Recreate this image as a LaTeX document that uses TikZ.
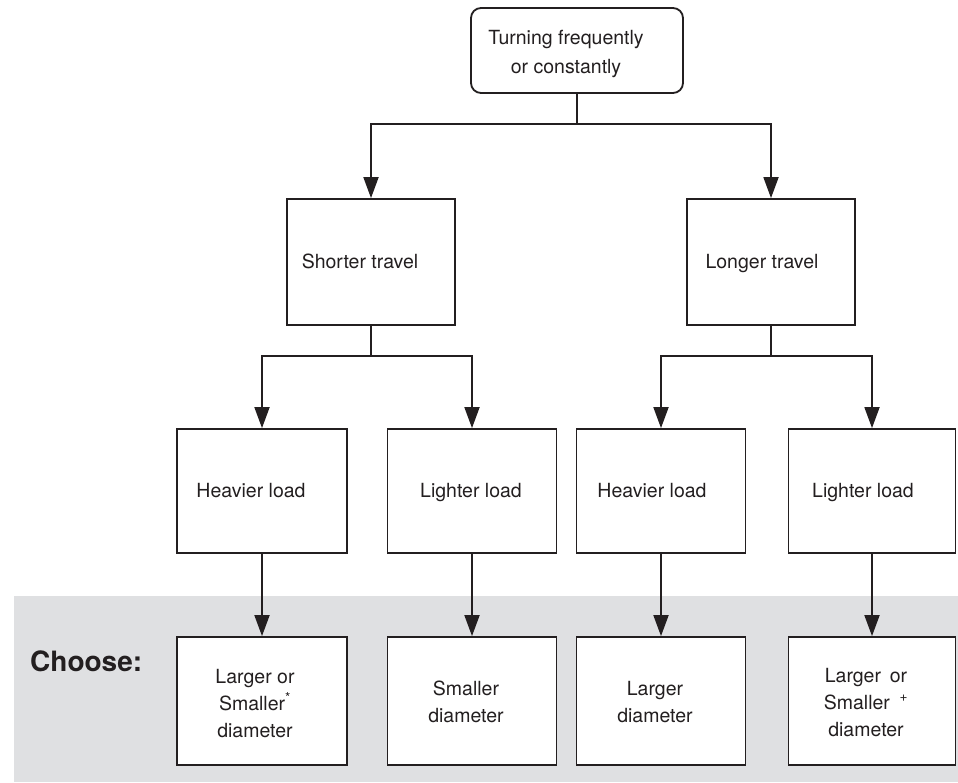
\documentclass[tikz,border=0pt]{standalone}
\usepackage{fontspec}
\setmainfont{TeX Gyre Heros}
\usetikzlibrary{arrows.meta}
\definecolor{ink}{HTML}{231F20}
\definecolor{band}{HTML}{DFE0E2}
\begin{document}
\begin{tikzpicture}[x=1pt,y=-1pt,
  every node/.style={text=ink},
  box/.style={draw=ink,line width=1.8pt,fill=white,inner sep=0pt},
  txt/.style={font=\fontsize{19.5}{27}\selectfont,align=center,inner sep=0pt,text height=14pt,text depth=4pt},
  mtxt/.style={font=\fontsize{19.5}{27}\selectfont,align=center,inner sep=0pt,anchor=base},
  arr/.style={draw=ink,line width=1.8pt,-{Triangle[length=21pt,width=15pt]}},
  ln/.style={draw=ink,line width=1.8pt}]
\useasboundingbox (0,0) rectangle (958,782);
\fill[white] (0,0) rectangle (958,782);
\fill[band] (14,596) rectangle (958,782);
\node[font=\fontsize{28}{30}\selectfont\bfseries,anchor=west,inner sep=0pt] (choose) at (30,661) {Choose:};
% top
\node[box,rounded corners=10pt,minimum width=212pt,minimum height=85pt] (top) at (577,50.5) {};
\node[mtxt,font=\fontsize{19.5}{29}\selectfont] (ttop) at (566,73) {Turning frequently\\or constantly};
% level 2
\node[box,minimum width=168pt,minimum height=126pt] (short) at (371,262) {};
\node[txt] (tshort) at (360,263) {Shorter travel};
\node[box,minimum width=168pt,minimum height=126pt] (long) at (771,262) {};
\node[txt] (tlong) at (762,263) {Longer travel};
% level 3
\node[box,minimum width=170pt,minimum height=124pt] (h1) at (262,491) {};
\node[txt] (th1) at (251,492) {Heavier load};
\node[box,minimum width=169pt,minimum height=124pt] (l1) at (472,491) {};
\node[txt] (tl1) at (471,492) {Lighter load};
\node[box,minimum width=169pt,minimum height=124pt] (h2) at (661,491) {};
\node[txt] (th2) at (652,492) {Heavier load};
\node[box,minimum width=167pt,minimum height=124pt] (l2) at (872,491) {};
\node[txt] (tl2) at (863,492) {Lighter load};
% level 4
\node[box,minimum width=170pt,minimum height=128pt] (c1) at (262,701) {};
\node[mtxt] (tc1) at (255,737) {Larger or\\Smaller\textsuperscript{*}\\diameter};
\node[box,minimum width=169pt,minimum height=128pt] (c2) at (472,701) {};
\node[mtxt] (tc2) at (466,722) {Smaller\\diameter};
\node[box,minimum width=169pt,minimum height=128pt] (c3) at (661,701) {};
\node[mtxt] (tc3) at (655,722) {Larger\\diameter};
\node[box,minimum width=167pt,minimum height=128pt] (c4) at (872,701) {};
\node[mtxt] (tc4) at (866,736) {Larger\hspace{0.45em}or\\Smaller\hspace{0.5em}\textsuperscript{+}\\diameter};
% connectors
\coordinate (j0) at (577,124);
\coordinate (j1) at (371,356);
\coordinate (j2) at (771,356);
\draw[ln] (top.south) -- (j0);
\draw[arr] (j0) -| (short.north);
\draw[arr] (j0) -| (long.north);
\draw[ln] (short.south) -- (j1);
\draw[arr] (j1) -| (h1.north);
\draw[arr] (j1) -| (l1.north);
\draw[ln] (long.south) -- (j2);
\draw[arr] (j2) -| (h2.north);
\draw[arr] (j2) -| (l2.north);
\draw[arr] (h1.south) -- (c1.north);
\draw[arr] (l1.south) -- (c2.north);
\draw[arr] (h2.south) -- (c3.north);
\draw[arr] (l2.south) -- (c4.north);
\end{tikzpicture}
\end{document}
